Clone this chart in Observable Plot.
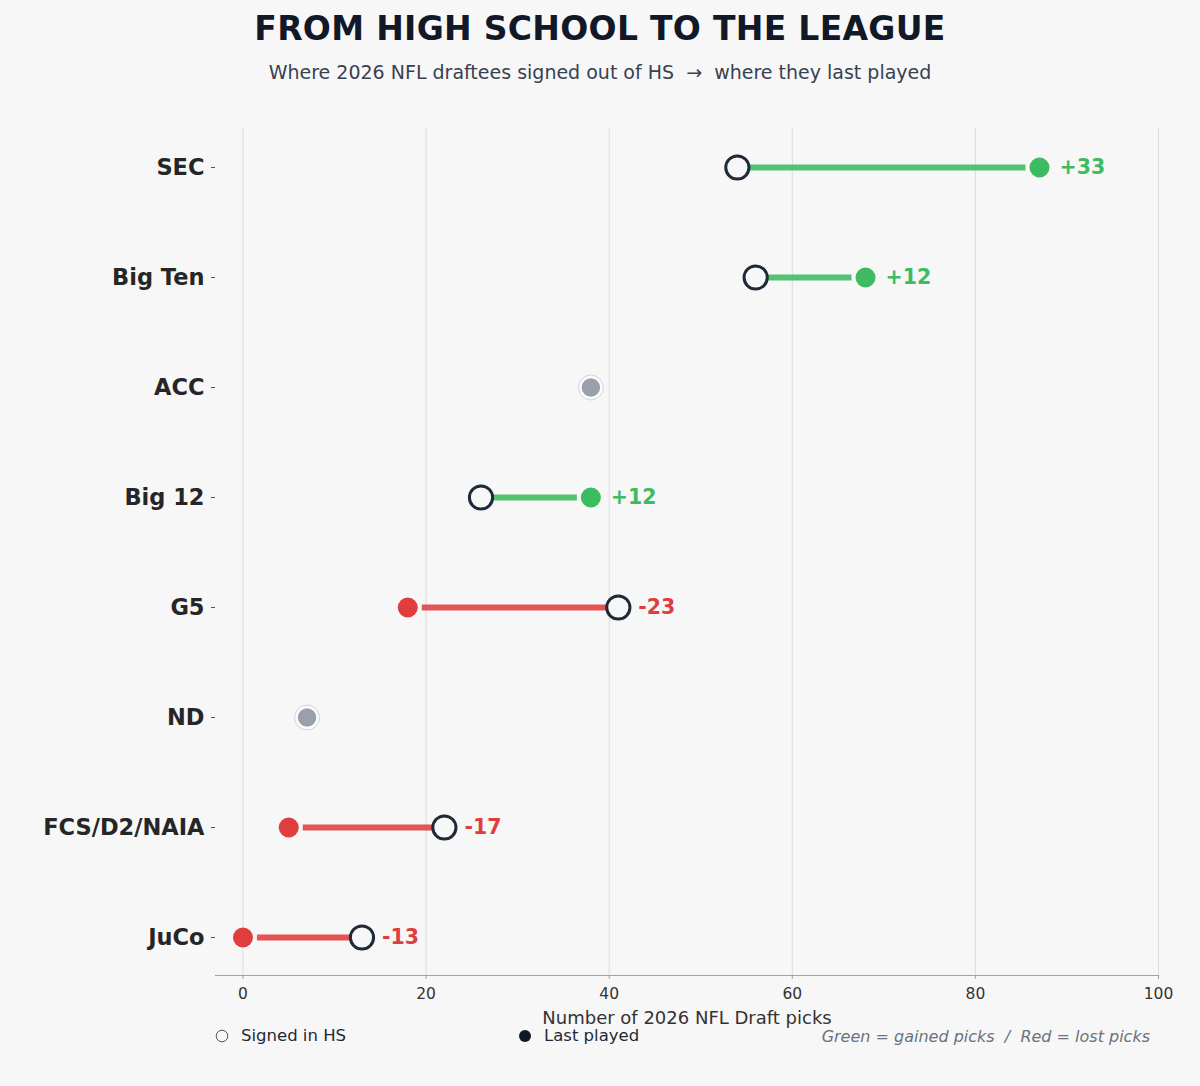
<!DOCTYPE html>
<html>
<head>
<meta charset="utf-8">
<script src="https://cdn.jsdelivr.net/npm/d3@7"></script>
<script src="https://cdn.jsdelivr.net/npm/@observablehq/plot@0.6"></script>
<style>
  html, body { margin: 0; padding: 0; background: #f7f7f7; }
  body { font-family: "DejaVu Sans", sans-serif; }
  #wrap { position: relative; width: 1200px; height: 1086px; background: #f7f7f7; overflow: hidden; }
  #title { position: absolute; top: 9px; left: 0; width: 1200px; text-align: center; font-size: 33px; font-weight: bold; color: #111827; letter-spacing: 0.3px; }
  #subtitle { position: absolute; top: 61px; left: 0; width: 1200px; text-align: center; font-size: 19px; color: #374151; }
  #chart { position: absolute; top: 100px; left: 0; }
  .legend { position: absolute; top: 1026px; font-size: 16.5px; color: #1f2937; display: flex; align-items: center; gap: 12px; }
  .note { position: absolute; top: 1027px; right: 50px; font-size: 16px; font-style: italic; color: #6b7280; }
</style>
</head>
<body>
<div id="wrap">
  <div id="title">FROM HIGH SCHOOL TO THE LEAGUE</div>
  <div id="subtitle">Where 2026 NFL draftees signed out of HS &nbsp;→&nbsp; where they last played</div>
  <div id="chart"></div>
  <div class="legend" style="left:215px;">
    <svg width="14" height="14"><circle cx="7" cy="7" r="5.8" fill="none" stroke="#4b5563" stroke-width="1"/></svg>
    <span>Signed in HS</span>
  </div>
  <div class="legend" style="left:518px;">
    <svg width="14" height="14"><circle cx="7" cy="7" r="6" fill="#111827"/></svg>
    <span>Last played</span>
  </div>
  <div class="note">Green = gained picks &nbsp;/&nbsp; Red = lost picks</div>
</div>
<script>
const conferences = ["SEC", "Big Ten", "ACC", "Big 12", "G5", "ND", "FCS/D2/NAIA", "JuCo"];
const signedHS    = [54, 56, 38, 26, 41, 7, 22, 13];
const lastPlayed  = [87, 68, 38, 38, 18, 7, 5, 0];
const xTicks      = [0, 20, 40, 60, 80, 100];

const GREEN = "#3dbb60";
const RED = "#e03e3e";
const BG = "#f7f7f7";

const rows = conferences.map((c, i) => {
  const hs = signedHS[i], last = lastPlayed[i], diff = last - hs;
  return {
    conf: c, hs, last, diff,
    color: diff > 0 ? GREEN : RED,
    label: diff > 0 ? `+${diff}` : `${diff}`,
    labelX: Math.max(hs, last)
  };
});
const changed = rows.filter(d => d.diff !== 0);
const same = rows.filter(d => d.diff === 0);

const chart = Plot.plot({
  width: 1200,
  height: 930,
  marginTop: 28,
  marginBottom: 55,
  marginLeft: 215,
  marginRight: 42,
  style: { background: "transparent", fontFamily: "DejaVu Sans, sans-serif", overflow: "visible" },
  x: { domain: [-3, 100] },
  y: { type: "point", domain: conferences, padding: 0.35 },
  marks: [
    Plot.gridX(xTicks, { stroke: "#d9dce3", strokeOpacity: 1, strokeWidth: 1 }),
    Plot.frame({ anchor: "bottom", stroke: "#9ca3af", strokeWidth: 1.2 }),
    Plot.axisX(xTicks, {
      tickSize: 4, tickPadding: 8, stroke: "#9ca3af", fill: "#333333", fontSize: 15.5, label: null
    }),
    Plot.axisX([], {
      fill: "#333333", fontSize: 18,
      label: "Number of 2026 NFL Draft picks", labelAnchor: "center", labelArrow: "none", labelOffset: 48
    }),
    Plot.axisY({
      tickSize: 4, tickPadding: 7, stroke: "#555", fill: "#262626", fontSize: 22.5, fontWeight: "bold", label: null
    }),
    Plot.arrow(changed, {
      x1: "hs", x2: "last", y1: "conf", y2: "conf",
      headLength: 0, insetEnd: 14, stroke: "color", strokeWidth: 6, strokeOpacity: 0.88, strokeLinecap: "butt"
    }),
    Plot.dot(changed, { x: "last", y: "conf", r: 10, fill: "color", stroke: "none" }),
    Plot.dot(changed, { x: "hs", y: "conf", r: 11.6, fill: BG, stroke: "#1f2937", strokeWidth: 3 }),
    Plot.dot(same, { x: "hs", y: "conf", r: 12.5, fill: "none", stroke: "#d4d7dd", strokeWidth: 1 }),
    Plot.dot(same, { x: "hs", y: "conf", r: 10, fill: "#9aa0ab", stroke: "#ffffff", strokeWidth: 1.5 }),
    Plot.text(changed, {
      x: "labelX", y: "conf", text: "label", dx: 20, textAnchor: "start",
      fill: "color", fontSize: 20.5, fontWeight: "bold"
    })
  ]
});
document.getElementById("chart").appendChild(chart);
</script>
</body>
</html>
